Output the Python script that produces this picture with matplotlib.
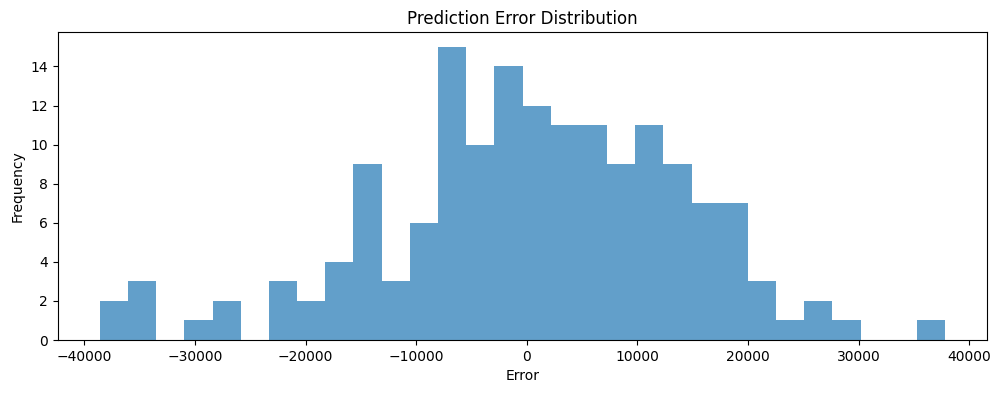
import numpy as np
import matplotlib
matplotlib.use("Agg")
import matplotlib.pyplot as plt

error_min = -38585
error_max = 37808
counts = [2, 3, 0, 1, 2, 0, 3, 2, 4, 9, 3, 6, 15, 10, 14, 12, 11, 11, 9, 11,
          9, 7, 7, 3, 1, 2, 1, 0, 0, 1]

edges = np.linspace(error_min, error_max, len(counts) + 1)
centers = (edges[:-1] + edges[1:]) / 2

fig = plt.figure(figsize=(10.01, 3.93), dpi=100)
ax = fig.add_axes([57.7 / 1001, (393 - 340) / 393, (987.3 - 57.7) / 1001, (340 - 32.3) / 393])
ax.hist(centers, bins=edges, weights=counts, alpha=0.7)
ax.set_title("Prediction Error Distribution")
ax.set_xlabel("Error")
ax.set_ylabel("Frequency")
fig.savefig("out.png", dpi=100)
